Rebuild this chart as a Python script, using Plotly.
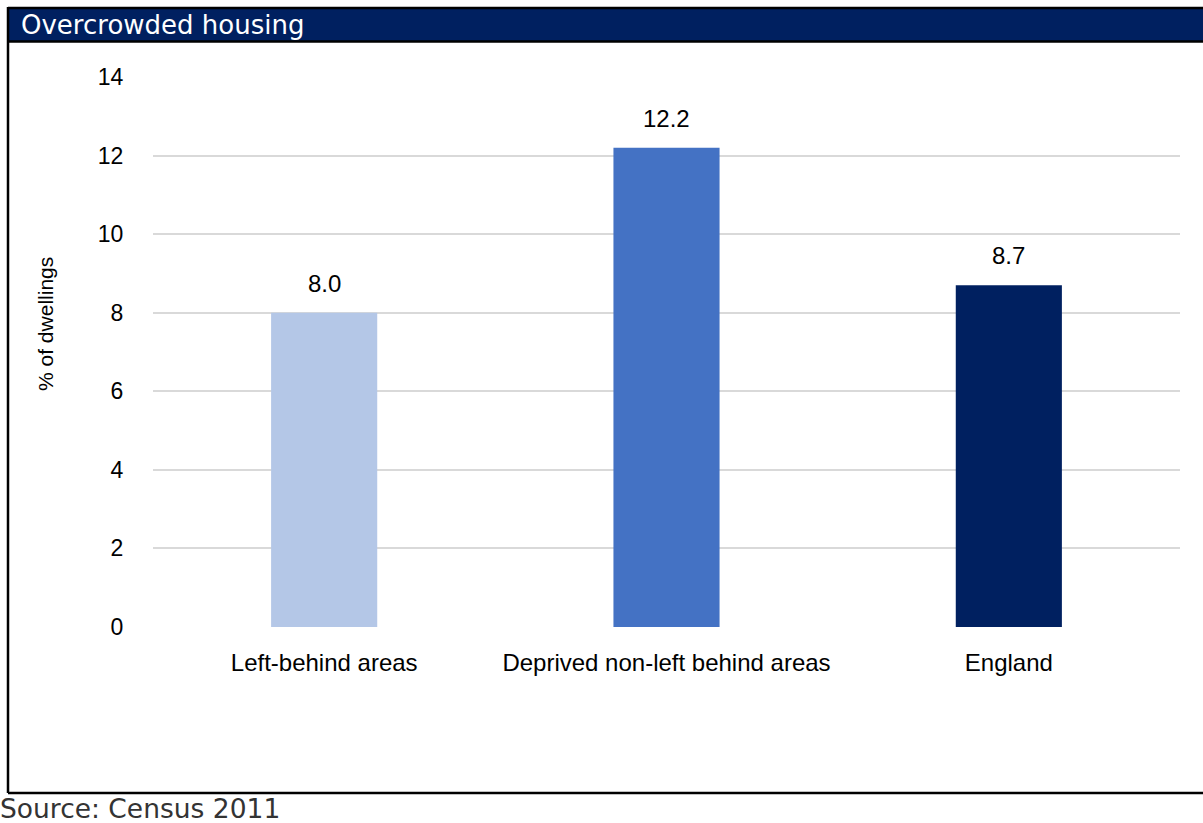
import plotly.graph_objects as go

# Overcrowded housing, % of dwellings (Census 2011)
categories = ["Left-behind areas", "Deprived non-left behind areas", "England"]
values = [8.0, 12.2, 8.7]
bar_colors = ["#b4c7e7", "#4472c4", "#002060"]
y_ticks = [0, 2, 4, 6, 8, 10, 12, 14]

W, H = 1203, 823
L, R, T, B = 153, 23, 77, 196
pw, ph = W - L - R, H - T - B


def px(x):
    return (x - L) / pw


def py(y):
    return (H - B - y) / ph


fig = go.Figure(
    go.Bar(
        x=categories,
        y=values,
        marker=dict(color=bar_colors, line=dict(width=0)),
        width=0.31,
        hoverinfo="x+y",
    )
)

for c, v in zip(categories, values):
    fig.add_annotation(
        x=c, y=v, text=f"{v:.1f}", showarrow=False, yanchor="bottom", yshift=14,
        font=dict(family="Liberation Sans, Arial", size=24, color="#000000"),
    )

# Header band, frame lines and source note
fig.add_shape(type="rect", xref="paper", yref="paper", x0=px(8), x1=px(W + 5),
              y0=py(41), y1=py(8), fillcolor="#002060", line=dict(width=0), layer="below")
line_style = dict(color="#000000", width=2.5)
fig.add_shape(type="line", xref="paper", yref="paper", x0=px(8), x1=px(W + 5),
              y0=py(8), y1=py(8), line=line_style)
fig.add_shape(type="line", xref="paper", yref="paper", x0=px(8), x1=px(W + 5),
              y0=py(41.5), y1=py(41.5), line=line_style)
fig.add_shape(type="line", xref="paper", yref="paper", x0=px(8), x1=px(W + 5),
              y0=py(793), y1=py(793), line=line_style)
fig.add_shape(type="line", xref="paper", yref="paper", x0=px(8), x1=px(8),
              y0=py(7), y1=py(793), line=line_style)

fig.add_annotation(
    xref="paper", yref="paper", x=px(19), y=py(25.5), xanchor="left", yanchor="middle",
    text="Overcrowded housing", showarrow=False,
    font=dict(family="DejaVu Sans, sans-serif", size=26, color="#ffffff"),
)
fig.add_annotation(
    xref="paper", yref="paper", x=px(-2), y=py(808), xanchor="left", yanchor="middle",
    text="Source: Census 2011", showarrow=False,
    font=dict(family="DejaVu Sans, sans-serif", size=26.5, color="#333333"),
)
fig.add_annotation(
    xref="paper", yref="paper", x=px(45), y=py(324), xanchor="center", yanchor="middle",
    text="% of dwellings", showarrow=False, textangle=-90,
    font=dict(family="Liberation Sans, Arial", size=21, color="#000000"),
)

fig.update_layout(
    width=W, height=H,
    margin=dict(l=L, r=R, t=T, b=B, pad=0),
    paper_bgcolor="#ffffff", plot_bgcolor="#ffffff",
    showlegend=False,
    bargap=0.69,
    font=dict(family="Liberation Sans, Arial", size=23, color="#000000"),
    xaxis=dict(
        showgrid=False, zeroline=False, showline=False,
        ticks="outside", ticklen=14, tickcolor="rgba(0,0,0,0)",
        tickfont=dict(size=24, color="#000000"),
    ),
    yaxis=dict(
        range=[0, 14], tickvals=y_ticks, showgrid=True, gridcolor="#d9d9d9", gridwidth=2,
        zeroline=False, showline=False,
        ticks="outside", ticklen=24, tickcolor="rgba(0,0,0,0)",
        tickfont=dict(size=23, color="#000000"),
    ),
)

fig.write_html("out.html")
